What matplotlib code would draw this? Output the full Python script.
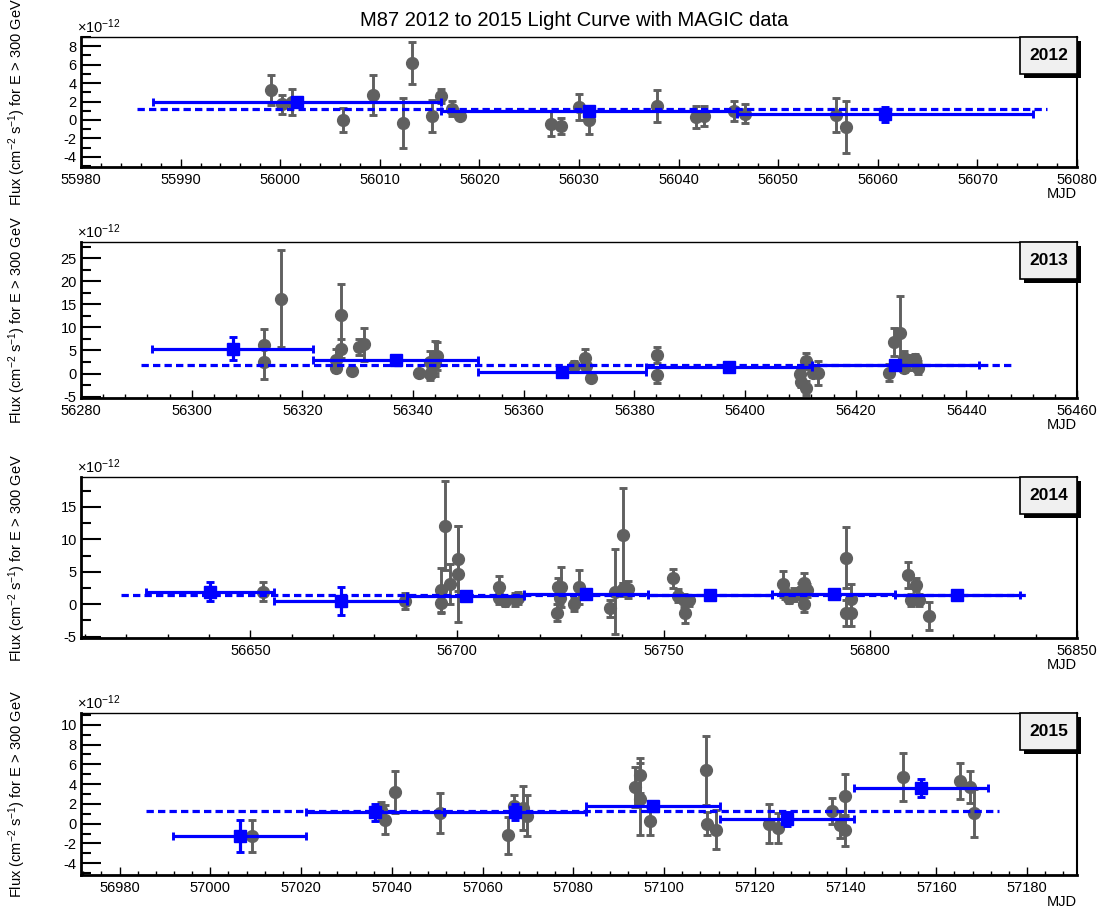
import numpy as np
import matplotlib
matplotlib.use("Agg")
import matplotlib.pyplot as plt
from matplotlib.patches import Rectangle
from matplotlib.ticker import MultipleLocator, FormatStrFormatter

plt.rcParams['font.family'] = ['Liberation Sans', 'DejaVu Sans']
plt.rcParams['mathtext.fontset'] = 'custom'
plt.rcParams['mathtext.rm'] = 'Liberation Sans'
plt.rcParams['mathtext.it'] = 'Liberation Sans:italic'
plt.rcParams['axes.unicode_minus'] = False

# ---- 2012 ----
mjd_2012 = [55999.1, 56000.2, 56001.2, 56006.3, 56009.3, 56012.3, 56013.2, 56015.2, 56016.1,
            56017.2, 56018.1, 56027.2, 56028.2, 56030.0, 56031.0, 56037.8, 56041.7, 56042.6,
            56045.6, 56046.7, 56055.8, 56056.8]
flux_2012 = [3.27, 1.7, 1.96, 0.0, 2.7, -0.33, 6.2, 0.44, 2.6,
             1.24, 0.44, -0.4, -0.65, 1.42, 0.0, 1.53, 0.33, 0.44,
             0.98, 0.7, 0.55, -0.77]
err_2012 = [1.6, 1.0, 1.45, 1.3, 2.2, 2.7, 2.3, 1.7, 0.8,
            0.8, 0.3, 1.35, 0.9, 1.45, 1.5, 1.7, 1.15, 1.1,
            1.05, 1.0, 1.85, 2.85]
bins_2012 = [55987.2, 56016.1, 56045.9, 56075.6]
bflux_2012 = [1.96, 0.95, 0.6]
berr_2012 = [0.5, 0.4, 0.8]
avg_2012 = [55985.6, 56077.0, 1.15]

# ---- 2013 ----
mjd_2013 = [56313.0, 56313.0, 56316.1, 56326.0, 56326.0, 56327.0, 56327.0, 56329.0, 56330.2,
            56331.2, 56341.0, 56343.0, 56343.1, 56343.9, 56344.0, 56344.3, 56369.1, 56371.0,
            56371.3, 56372.1, 56384.1, 56384.1, 56410.0, 56410.2, 56411.0, 56411.0, 56412.2,
            56413.2, 56426.1, 56427.0, 56428.0, 56428.7, 56428.7, 56429.7, 56430.7, 56431.3]
flux_2013 = [6.25, 2.4, 16.2, 2.95, 1.3, 12.6, 5.4, 0.57, 5.75,
             6.3, 0.07, 2.5, -0.15, 3.2, 2.2, 3.8, 1.65, 3.3,
             1.65, -1.0, 4.0, -0.36, -0.14, -1.9, 2.7, -3.2, 0.2,
             0.07, 0.2, 6.9, 8.7, 3.4, 1.3, 2.4, 3.1, 1.3]
err_2013 = [3.3, 3.6, 10.5, 2.4, 1.0, 6.9, 2.0, 0.6, 1.75,
            3.6, 0.5, 2.4, 1.2, 3.8, 2.0, 3.0, 1.0, 2.1,
            1.0, 0.5, 1.8, 1.7, 1.0, 1.0, 1.8, 1.5, 1.0,
            2.6, 1.8, 3.0, 8.0, 1.5, 1.0, 1.6, 1.2, 1.4]
bins_2013 = [56292.9, 56322.0, 56351.8, 56382.1, 56412.1, 56442.2]
bflux_2013 = [5.4, 2.9, 0.43, 1.5, 1.87]
berr_2013 = [2.5, 0.6, 0.4, 0.4, 0.4]
avg_2013 = [56290.8, 56448.7, 1.87]

# ---- 2014 ----
mjd_2014 = [56653.1, 56687.4, 56696.1, 56696.1, 56697.1, 56698.3, 56700.3, 56700.3, 56710.2,
            56710.2, 56711.5, 56713.9, 56714.7, 56724.1, 56724.4, 56724.8, 56725.2, 56728.4,
            56729.4, 56737.1, 56738.1, 56740.2, 56740.2, 56741.3, 56752.2, 56753.4, 56755.0,
            56755.2, 56756.2, 56778.9, 56779.4, 56780.2, 56781.5, 56783.1, 56784.0, 56784.7,
            56784.0, 56794.0, 56794.0, 56795.2, 56795.2, 56809.0, 56809.8, 56811.1, 56811.7,
            56814.1]
flux_2014 = [1.96, 0.5, 2.2, 0.15, 12.1, 3.1, 7.0, 4.6, 2.6,
             1.0, 0.5, 0.8, 1.0, -1.3, 2.6, 1.0, 2.6, 0.0,
             2.7, -0.6, 1.96, 10.6, 2.3, 2.3, 4.0, 1.3, 0.6,
             -1.4, 0.6, 3.1, 1.8, 1.0, 1.5, 2.05, 3.2, 2.15,
             0.0, 7.2, -1.3, 0.77, -1.4, 4.5, 0.67, 3.0, 0.67,
             -1.8]
err_2014 = [1.4, 1.3, 3.4, 1.5, 6.9, 3.1, 5.0, 7.4, 1.8,
            1.0, 0.8, 1.0, 0.9, 1.3, 1.4, 1.0, 3.1, 1.0,
            2.6, 1.3, 6.5, 7.3, 1.0, 1.3, 1.5, 1.0, 1.0,
            1.5, 0.9, 2.0, 1.0, 0.8, 1.0, 1.2, 1.6, 1.0,
            1.2, 4.7, 2.0, 2.3, 2.0, 2.0, 0.9, 1.0, 0.9,
            2.2]
bins_2014 = [56624.8, 56655.8, 56688.0, 56716.1, 56746.3, 56776.2, 56806.0, 56836.1]
bflux_2014 = [1.96, 0.5, 1.3, 1.65, 1.4, 1.6, 1.5]
berr_2014 = [1.45, 2.1, 0.4, 0.4, 0.4, 0.4, 0.4]
avg_2014 = [56618.6, 56838.2, 1.44]

# ---- 2015 ----
mjd_2015 = [57009.2, 57037.6, 57038.6, 57040.7, 57050.7, 57065.7, 57066.9, 57068.9, 57069.9,
            57093.7, 57094.7, 57094.7, 57096.9, 57109.3, 57109.4, 57111.4, 57123.2, 57125.2,
            57137.0, 57138.8, 57139.8, 57139.8, 57152.6, 57165.3, 57167.4, 57168.4]
flux_2015 = [-1.28, 1.35, 0.4, 3.18, 1.08, -1.18, 1.82, 1.6, 0.8,
             3.7, 4.9, 2.5, 0.24, 5.4, 0.0, -0.6, 0.0, -0.44,
             1.25, -0.1, -0.68, 2.84, 4.7, 4.3, 3.7, 1.08]
err_2015 = [1.6, 0.8, 1.45, 2.1, 2.0, 1.9, 1.1, 2.2, 2.1,
            2.0, 1.75, 3.6, 1.4, 3.5, 1.2, 2.0, 2.0, 1.5,
            1.3, 1.4, 1.6, 2.2, 2.45, 1.85, 1.6, 2.4]
bins_2015 = [56991.8, 57021.1, 57051.6, 57082.8, 57112.4, 57141.8, 57171.4]
bflux_2015 = [-1.28, 1.15, 1.15, 1.82, 0.47, 3.6]
berr_2015 = [1.6, 0.85, 0.8, 0.5, 0.7, 0.95]
avg_2015 = [56985.9, 57173.8, 1.32]

years = ['2012', '2013', '2014', '2015']
points = [(mjd_2012, flux_2012, err_2012), (mjd_2013, flux_2013, err_2013),
          (mjd_2014, flux_2014, err_2014), (mjd_2015, flux_2015, err_2015)]
binned = [(bins_2012, bflux_2012, berr_2012), (bins_2013, bflux_2013, berr_2013),
          (bins_2014, bflux_2014, berr_2014), (bins_2015, bflux_2015, berr_2015)]
averages = [avg_2012, avg_2013, avg_2014, avg_2015]

xlims = [(55980, 56080), (56280, 56460), (56609, 56850), (56971.5, 57191)]
xmajor = [10, 20, 50, 20]
xminor = [2, 4, 10, 4]
ylims = [(-5.1, 9.0), (-5.3, 28.5), (-5.2, 19.6), (-5.2, 11.2)]
ymajor = [2, 5, 5, 2]
yminor = [1, 2.5, 2.5, 1]

W, H = 1100, 909
# axes boxes in pixels: top, bottom
pix = [(37, 167), (242, 398), (477, 638), (713, 875)]
left_px, right_px = 81, 1077

fig = plt.figure(figsize=(11, 9.09), dpi=100)
fig.text(574 / W, 1 - 21 / H, 'M87 2012 to 2015 Light Curve with MAGIC data',
         ha='center', va='center', fontsize=14.5)

gray = '#606060'
for i in range(4):
    top, bot = pix[i]
    ax = fig.add_axes([left_px / W, 1 - bot / H, (right_px - left_px) / W, (bot - top) / H])

    x, y, e = points[i]
    ax.errorbar(x, y, yerr=e, fmt='o', color=gray, ms=8.5, elinewidth=2.1,
                capsize=3, capthick=2.1, zorder=2)

    lo, hi, lvl = averages[i]
    ax.plot([lo, hi], [lvl, lvl], color='blue', lw=2.3, dashes=(2.3, 1.3), zorder=3)

    edges, bf, be = binned[i]
    edges = np.array(edges)
    centers = (edges[:-1] + edges[1:]) / 2
    hw = np.diff(edges) / 2
    ax.errorbar(centers, bf, xerr=hw, yerr=be, fmt='s', color='blue', ms=8,
                elinewidth=2.3, capsize=3, capthick=2.1, zorder=4)

    ax.set_xlim(*xlims[i])
    ax.set_ylim(*ylims[i])
    ax.xaxis.set_major_locator(MultipleLocator(xmajor[i]))
    ax.xaxis.set_minor_locator(MultipleLocator(xminor[i]))
    ax.yaxis.set_major_locator(MultipleLocator(ymajor[i]))
    ax.yaxis.set_minor_locator(MultipleLocator(yminor[i]))
    ax.xaxis.set_major_formatter(FormatStrFormatter('%d'))
    ax.yaxis.set_major_formatter(FormatStrFormatter('%d'))
    ax.tick_params(axis='y', which='major', direction='in', length=14.5, width=1.5, labelsize=10.5, pad=3)
    ax.tick_params(axis='y', which='minor', direction='in', length=7, width=1.5)
    ax.tick_params(axis='x', which='major', direction='in', length=5.5, width=1.0, labelsize=10.5, pad=4)
    ax.tick_params(axis='x', which='minor', direction='in', length=2.8, width=1.0)
    ax.tick_params(top=False, right=False, which='both')
    ax.spines['left'].set_linewidth(2.0)
    ax.spines['bottom'].set_linewidth(2.0)
    ax.spines['top'].set_linewidth(1.0)
    ax.spines['right'].set_linewidth(1.5)

    ax.text(-0.004, 1.004, r'$\times10^{-12}$', transform=ax.transAxes, ha='left', va='bottom',
            fontsize=10.5)
    ax.annotate('MJD', xy=(1, 0), xycoords='axes fraction', xytext=(0, -14.5),
                textcoords='offset points', ha='right', va='top', fontsize=10.5)
    fig.text(17 / W, 1 - (top + bot) / 2 / H, r'Flux (cm$^{-2}$ s$^{-1}$) for E > 300 GeV',
             rotation=90, ha='center', va='center', fontsize=10.5)

    # year box with shadow
    aw = right_px - left_px
    ah = bot - top
    bw, bh, sh = 57 / aw, 37 / ah, 4
    ax.add_patch(Rectangle((1 - bw + sh / aw, 1 - bh - sh / ah), bw, bh, transform=ax.transAxes,
                           fc='black', ec='none', clip_on=False, zorder=6))
    ax.add_patch(Rectangle((1 - bw, 1 - bh), bw, bh, transform=ax.transAxes,
                           fc='#f0f0f0', ec='black', lw=1.2, clip_on=False, zorder=7))
    ax.text(1 - bw / 2, 1 - bh / 2, years[i], transform=ax.transAxes, ha='center', va='center',
            fontsize=12.5, fontweight='bold', zorder=8)

fig.savefig('out.png', dpi=100)
